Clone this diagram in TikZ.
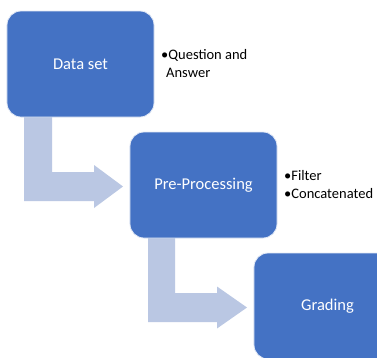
\documentclass[tikz,border=0pt]{standalone}
\usepackage{fontspec}
\setmainfont{Carlito}
\definecolor{boxblue}{RGB}{68,114,196}
\definecolor{arrowblue}{RGB}{186,199,227}
\begin{document}
\begin{tikzpicture}[x=1bp,y=-1bp,
  stepbox/.style={draw=white!85!boxblue, line width=0.8bp, fill=boxblue, rounded corners=14bp,
    minimum width=147bp, minimum height=106bp, inner sep=0pt, text=white,
    font=\fontsize{16.5bp}{19bp}\selectfont},
  bulletnote/.style={anchor=west, align=left, inner sep=0pt, text=black,
    font=\fontsize{14.5bp}{18bp}\selectfont},
  elbow/.style={fill=arrowblue, draw=none}]
\useasboundingbox (0,0) rectangle (377,358);
\clip (0,0) rectangle (377,358);
\fill[white] (0,0) rectangle (377,358);
% elbow arrows
\fill[elbow] (24,110) -- (52,110) -- (52,172) -- (94,172) -- (94,165) -- (123,186.5)
  -- (94,208) -- (94,201) -- (24,201) -- cycle;
\fill[elbow] (148,230) -- (175,230) -- (175,293) -- (217,293) -- (217,286.5) -- (247,307.5)
  -- (217,328.5) -- (217,322) -- (148,322) -- cycle;
% boxes
\node[stepbox] (ds) at (80.5,64) {Data set};
\node[stepbox] (pp) at (203.5,185) {Pre-Processing};
\node[stepbox] (gr) at (327.5,306) {Grading};
% notes
\node[bulletnote] (n1) at (161,63.5) {•Question and\\\hspace{5bp}Answer};
\node[bulletnote] (n2) at (284,184.5) {•Filter\\•Concatenated};
\end{tikzpicture}
\end{document}
